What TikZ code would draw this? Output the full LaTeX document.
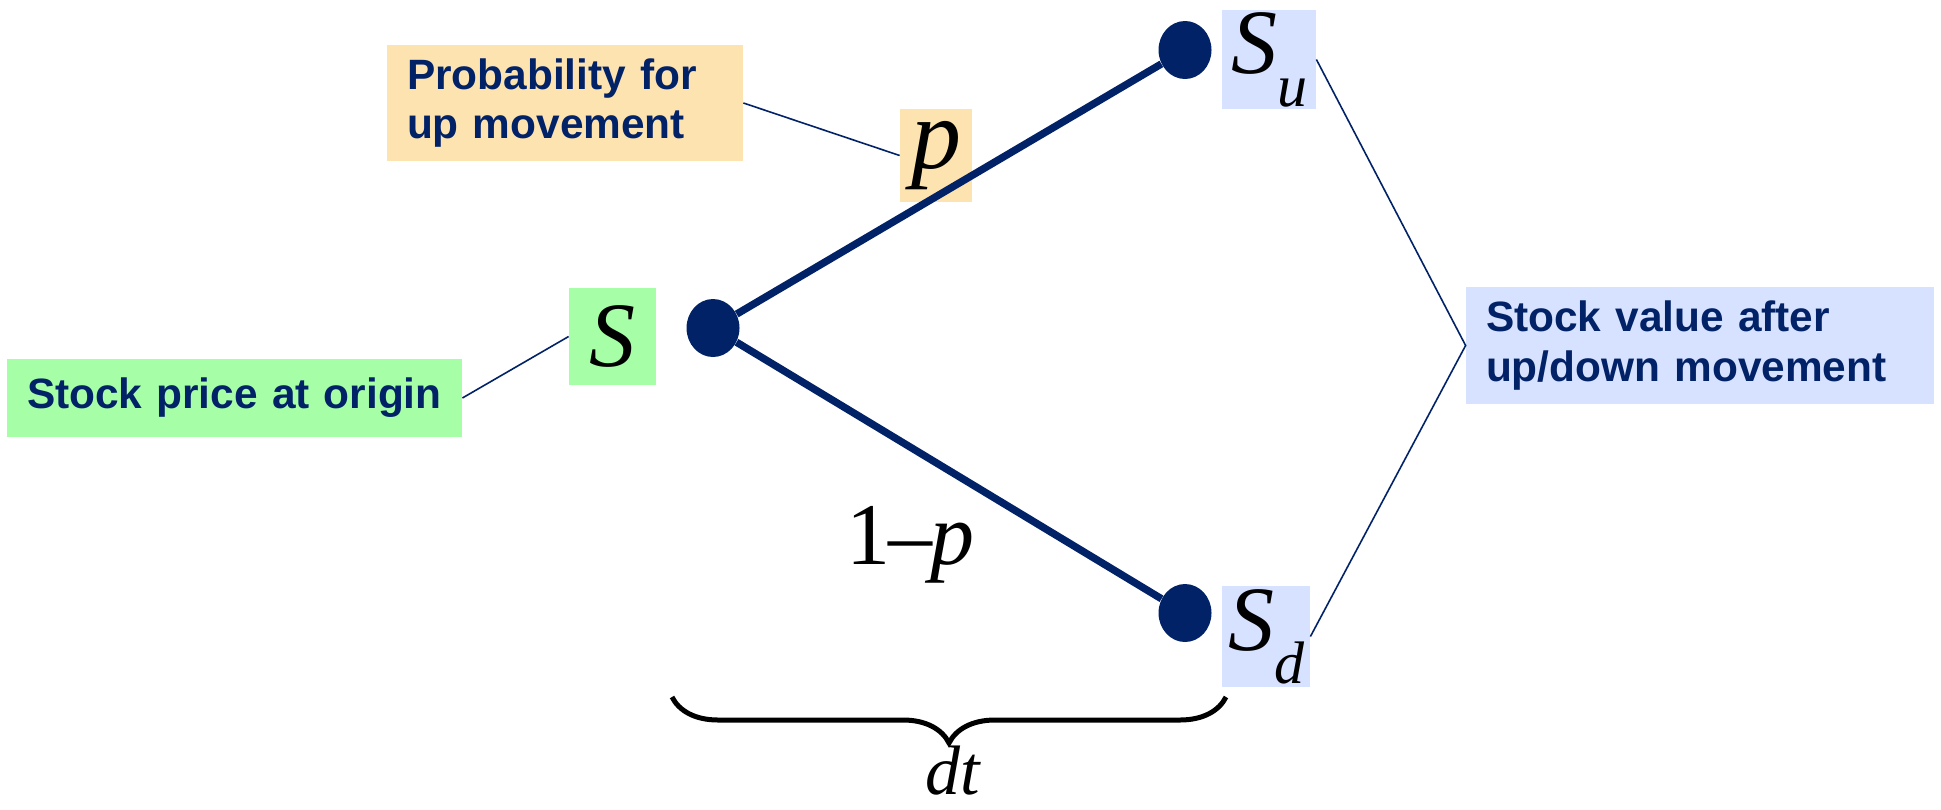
\documentclass[tikz,border=0pt]{standalone}
\usepackage{fontspec}
\setmainfont{Liberation Sans}
\newfontfamily\tms{Liberation Serif}
\usetikzlibrary{decorations.pathreplacing,shapes.geometric}
\definecolor{navy}{RGB}{2,34,104}
\definecolor{orangebg}{RGB}{253,227,176}
\definecolor{greenbg}{RGB}{166,255,166}
\definecolor{bluebg}{RGB}{214,226,255}
\tikzset{
  lbl/.style={inner xsep=10pt, inner ysep=0pt, align=left, text=navy,
    font=\fontsize{21.2}{24.6}\selectfont\bfseries},
  mbox/.style={inner sep=0pt, text=black, font=\tms\itshape\fontsize{46}{46}\selectfont},
  dot/.style={ellipse, fill=navy, inner sep=0pt, minimum width=26.5pt, minimum height=29pt},
  tree/.style={navy, line width=3.7pt},
  thin/.style={navy, line width=0.8pt},
}
\newcommand\Ssub[1]{S\raisebox{-0.36em}{\fontsize{30}{30}\selectfont #1}}
\begin{document}
\begin{tikzpicture}[x=0.5pt,y=-0.5pt]
\useasboundingbox (0,0) rectangle (1941,809);
% label boxes
\node[lbl, fill=orangebg, text width=158pt, minimum height=58pt] (prob) at (565,103)
  {Probability for\\up movement};
\node[lbl, fill=greenbg, text width=207.5pt, minimum height=39pt] (orig) at (234.5,398)
  {Stock price at origin};
\node[lbl, fill=bluebg, text width=214pt, minimum height=58.5pt] (sval) at (1700,345.5)
  {Stock value after\\up/down movement};
% math boxes
\node[mbox, fill=orangebg, minimum width=36pt, minimum height=46.5pt, font=\tms\itshape\fontsize{50}{50}\selectfont] (pbox) at (936,155.5) {p};
\node[mbox, fill=greenbg, minimum width=43.5pt, minimum height=48.5pt] (sbox) at (612.5,336.5) {S};
\node[mbox, fill=bluebg, minimum width=47pt, minimum height=49.5pt] (subox) at (1269,59.5) {\Ssub{u}};
\node[mbox, fill=bluebg, minimum width=44pt, minimum height=50.5pt] (sdbox) at (1266,636.5) {\Ssub{d}};
% dots
\node[dot] (s) at (713,328) {};
\node[dot] (su) at (1185,50) {};
\node[dot] (sd) at (1185,613) {};
% tree
\draw[tree] (s) -- (su);
\draw[tree] (s) -- (sd);
% connectors
\draw[thin] (prob.east) -- (pbox.west);
\draw[thin] (orig.east) -- (sbox.west);
\draw[thin] (subox.east) -- (sval.west) -- (sdbox.east);
% 1-p
\node[inner sep=0pt, font=\tms\fontsize{44}{44}\selectfont] (q) at (910,545) {1\kern-1pt–\kern-1pt{\itshape p}};
% brace
\coordinate (bl) at (672,697);
\coordinate (br) at (1226,697);
\draw[decorate, decoration={brace, mirror, amplitude=23pt}, line width=2.5pt] (bl) -- (br);
\node[inner sep=0pt, font=\tms\itshape\fontsize{35}{35}\selectfont] (dt) at (953,771) {dt};
\end{tikzpicture}
\end{document}
